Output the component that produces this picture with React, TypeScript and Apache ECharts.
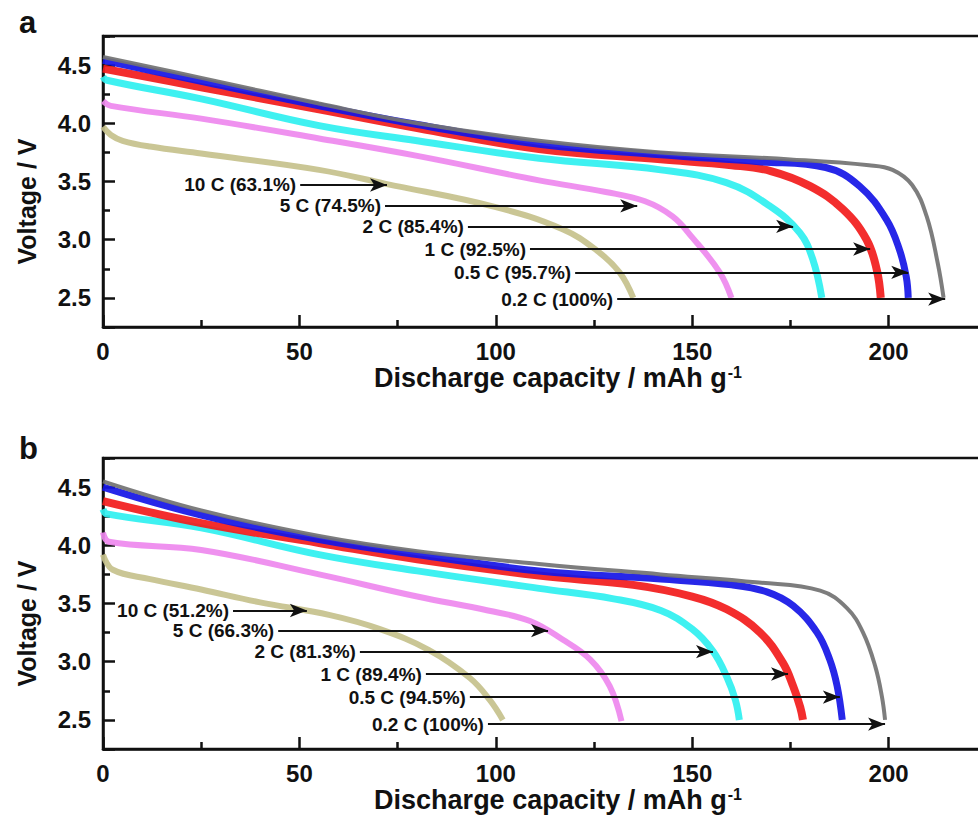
import React, { useEffect, useRef } from 'react';
import * as echarts from 'echarts';

// ---------- Data (capacity mAh/g, voltage V) ----------
// Panel a
const a_02C = [[0, 4.57], [25, 4.39], [55, 4.17], [80, 4.0], [111, 3.85], [142, 3.75], [175, 3.69], [195, 3.64], [201, 3.6], [206, 3.47], [209.7, 3.2], [212.5, 2.8], [214, 2.5]];
const a_05C = [[0, 4.54], [25, 4.36], [55, 4.15], [80, 3.99], [111, 3.82], [142, 3.73], [167, 3.67], [184, 3.62], [192.6, 3.46], [199.5, 3.17], [202.8, 2.91], [204.5, 2.68], [205, 2.5]];
const a_1C = [[0, 4.47], [25, 4.31], [55, 4.12], [80, 3.96], [111, 3.78], [142, 3.69], [160, 3.64], [170, 3.59], [180, 3.46], [188.4, 3.26], [194.4, 3.0], [197, 2.74], [198, 2.5]];
const a_2C = [[0, 4.4], [1, 4.37], [25, 4.21], [55, 3.98], [80, 3.85], [111, 3.7], [142, 3.6], [158.7, 3.49], [169.7, 3.29], [177.4, 3.06], [180.7, 2.83], [183, 2.5]];
const a_5C = [[0, 4.19], [2, 4.15], [25, 4.04], [55, 3.87], [80, 3.72], [111, 3.51], [128, 3.41], [138, 3.33], [145, 3.2], [150, 3.02], [157, 2.72], [160, 2.5]];
const a_10C = [[0, 3.97], [2, 3.9], [5, 3.85], [12, 3.8], [25, 3.74], [55, 3.6], [72, 3.48], [100, 3.28], [117, 3.09], [125.6, 2.91], [131.5, 2.72], [135, 2.5]];

// Panel b
const b_02C = [[0, 4.55], [25, 4.3], [55, 4.08], [80, 3.95], [111, 3.84], [142, 3.75], [167, 3.68], [182.6, 3.61], [189.4, 3.46], [193.5, 3.25], [196.6, 2.96], [198.3, 2.7], [199.1, 2.5]];
const b_05C = [[0, 4.5], [25, 4.26], [55, 4.05], [80, 3.92], [111, 3.78], [142, 3.71], [160, 3.66], [169, 3.6], [175.7, 3.48], [181.8, 3.25], [185, 3.02], [186.9, 2.79], [188.2, 2.5]];
const b_1C = [[0, 4.38], [25, 4.19], [55, 4.02], [80, 3.88], [111, 3.74], [135, 3.66], [150, 3.56], [158.8, 3.45], [167.3, 3.25], [173.1, 2.99], [175.7, 2.79], [177.5, 2.61], [178.2, 2.5]];
const b_2C = [[0, 4.31], [1, 4.27], [25, 4.15], [55, 3.92], [80, 3.78], [111, 3.63], [130, 3.54], [142, 3.44], [150, 3.28], [155.3, 3.09], [158.8, 2.87], [161, 2.67], [162, 2.5]];
const b_5C = [[0, 4.11], [1.5, 4.03], [25, 3.96], [55, 3.75], [80, 3.56], [98, 3.44], [108.7, 3.35], [117, 3.19], [124, 3.02], [129, 2.79], [132, 2.49]];
const b_10C = [[0, 3.92], [2.5, 3.79], [12, 3.71], [25, 3.62], [40, 3.51], [57.8, 3.4], [70.5, 3.28], [83, 3.1], [93.4, 2.86], [98.5, 2.67], [101.8, 2.5]];

// Rate labels and arrows: [start capacity, end capacity, voltage]
const rateNames = ['10 C', '5 C', '2 C', '1 C', '0.5 C', '0.2 C'];
const a_retention = ['63.1%', '74.5%', '85.4%', '92.5%', '95.7%', '100%'];
const b_retention = ['51.2%', '66.3%', '81.3%', '89.4%', '94.5%', '100%'];
const a_arrows = [[50.2, 72.3, 3.47], [71.8, 136, 3.29], [92.9, 175.7, 3.115], [108.7, 195.3, 2.92], [120.2, 205, 2.72], [130.9, 214.4, 2.49]];
const b_arrows = [[33.1, 51.9, 3.44], [44.6, 113.3, 3.267], [65.4, 155.3, 3.086], [82.2, 174.4, 2.894], [93.4, 187.6, 2.696], [98, 199.1, 2.463]];

const xMin = 0;
const xMax = 250;
const xStep = 50;
const xLabelMax = 200;
const yMin = 2.25;
const yMax = 4.75;

const colors = ['#c6c18c', '#ee88ee', '#2ff0f0', '#f21b1b', '#1515e6', '#727272'];
const widths = [6, 6, 7, 8, 7, 4];

const FONT = "Arial, 'Liberation Sans', Helvetica, sans-serif";

function buildAxes(gridIndex: number) {
  const axisColor = '#111';
  const xAxis = {
    type: 'value',
    gridIndex,
    min: xMin,
    max: xMax,
    interval: xStep,
    position: 'bottom',
    axisLine: { show: true, onZero: false, lineStyle: { color: axisColor, width: 2.5 } },
    axisTick: { show: true, inside: true, length: 12, lineStyle: { color: axisColor, width: 2.5 } },
    minorTick: { show: true, splitNumber: 2, length: 7, lineStyle: { color: axisColor, width: 2.5 } },
    splitLine: { show: false },
    axisLabel: {
      color: '#111', fontSize: 24, fontWeight: 'bold', fontFamily: FONT, margin: 12,
      formatter: (v: number) => (v <= xLabelMax ? String(v) : ''),
    },
    name: '{t|Discharge capacity / mAh g}{s|-1}',
    nameLocation: 'middle',
    nameGap: 37,
    nameTextStyle: {
      padding: [0, 72, 0, 0],
      rich: {
        t: { fontSize: 27, fontWeight: 'bold', fontFamily: FONT, color: '#111' },
        s: { fontSize: 16, fontWeight: 'bold', fontFamily: FONT, color: '#111', verticalAlign: 'top', padding: [0, 0, 12, 1] },
      },
    },
  };
  const yMain = {
    type: 'value',
    gridIndex,
    min: yMin,
    max: yMax,
    position: 'left',
    axisLine: { show: true, onZero: false, lineStyle: { color: axisColor, width: 2.5 } },
    axisTick: { show: true, inside: true, length: 12, lineStyle: { color: axisColor, width: 2.5 } },
    splitLine: { show: false },
    axisLabel: {
      color: '#111', fontSize: 24, fontWeight: 'bold', fontFamily: FONT, margin: 12,
      formatter: (v: number) => {
        const r = Math.round(v * 2) / 2;
        return Math.abs(v - r) < 1e-6 && v > 2.3 && v < 4.7 ? r.toFixed(1) : '';
      },
    },
    name: 'Voltage / V',
    nameLocation: 'middle',
    nameGap: 64,
    nameTextStyle: { fontSize: 25, fontWeight: 'bold', fontFamily: FONT, color: '#111', padding: [0, 40, 0, 0] },
  };
  const yMinor = {
    type: 'value',
    gridIndex,
    min: yMin,
    max: yMax,
    interval: 0.5,
    position: 'left',
    axisLine: { show: false },
    axisTick: { show: true, inside: true, length: 7, lineStyle: { color: axisColor, width: 2.5 } },
    splitLine: { show: false },
    axisLabel: { show: false },
  };
  return { xAxis, yAxes: [yMain, yMinor] };
}

function buildSeries(gridIndex: number, curves: number[][][], retention: string[], arrows: number[][]) {
  return curves.map((data, i) => ({
    type: 'line',
    name: rateNames[i] + (gridIndex === 0 ? ' a' : ' b'),
    xAxisIndex: gridIndex,
    yAxisIndex: gridIndex * 2,
    data,
    smooth: 0.4,
    showSymbol: false,
    lineStyle: { color: colors[i], width: widths[i], opacity: 0.92 },
    markLine: {
      silent: true,
      symbol: ['none', 'arrow'],
      symbolSize: [10, 17],
      lineStyle: { color: '#111', width: 2, type: 'solid' },
      label: {
        show: true,
        position: 'start',
        formatter: '{b}',
        color: '#111',
        fontSize: 19,
        fontWeight: 'bold',
        fontFamily: FONT,
        distance: 4,
      },
      data: [
        [
          { name: `${rateNames[i]} (${retention[i]})`, coord: [arrows[i][0], arrows[i][2]] },
          { coord: [arrows[i][1], arrows[i][2]] },
        ],
      ],
    },
  }));
}

export default function App() {
  const ref = useRef<HTMLDivElement>(null);
  useEffect(() => {
    if (!ref.current) return;
    const chart = echarts.init(ref.current, undefined, { renderer: 'svg' });
    const A = buildAxes(0);
    const B = buildAxes(1);
    const option = {
      animation: false,
      backgroundColor: '#ffffff',
      title: [
        { text: 'a', left: 14, top: 2, textStyle: { fontSize: 31, fontWeight: 'bold', fontFamily: FONT, color: '#111' } },
        { text: 'b', left: 14, top: 428, textStyle: { fontSize: 31, fontWeight: 'bold', fontFamily: FONT, color: '#111' } },
      ],
      grid: [
        { left: 103, top: 36, width: 982, height: 291, outerBoundsMode: 'none', containLabel: false, show: true, borderColor: '#111', borderWidth: 2.5, backgroundColor: 'transparent' },
        { left: 103, top: 458, width: 982, height: 291, outerBoundsMode: 'none', containLabel: false, show: true, borderColor: '#111', borderWidth: 2.5, backgroundColor: 'transparent' },
      ],
      xAxis: [A.xAxis, B.xAxis],
      yAxis: [...A.yAxes, ...B.yAxes],
      series: [
        ...buildSeries(0, [a_10C, a_5C, a_2C, a_1C, a_05C, a_02C], a_retention, a_arrows),
        ...buildSeries(1, [b_10C, b_5C, b_2C, b_1C, b_05C, b_02C], b_retention, b_arrows),
      ],
    };
    chart.setOption(option as any);
    return () => chart.dispose();
  }, []);
  return <div ref={ref} style={{ position: 'fixed', left: 0, top: 0, width: 978, height: 822 }} />;
}
